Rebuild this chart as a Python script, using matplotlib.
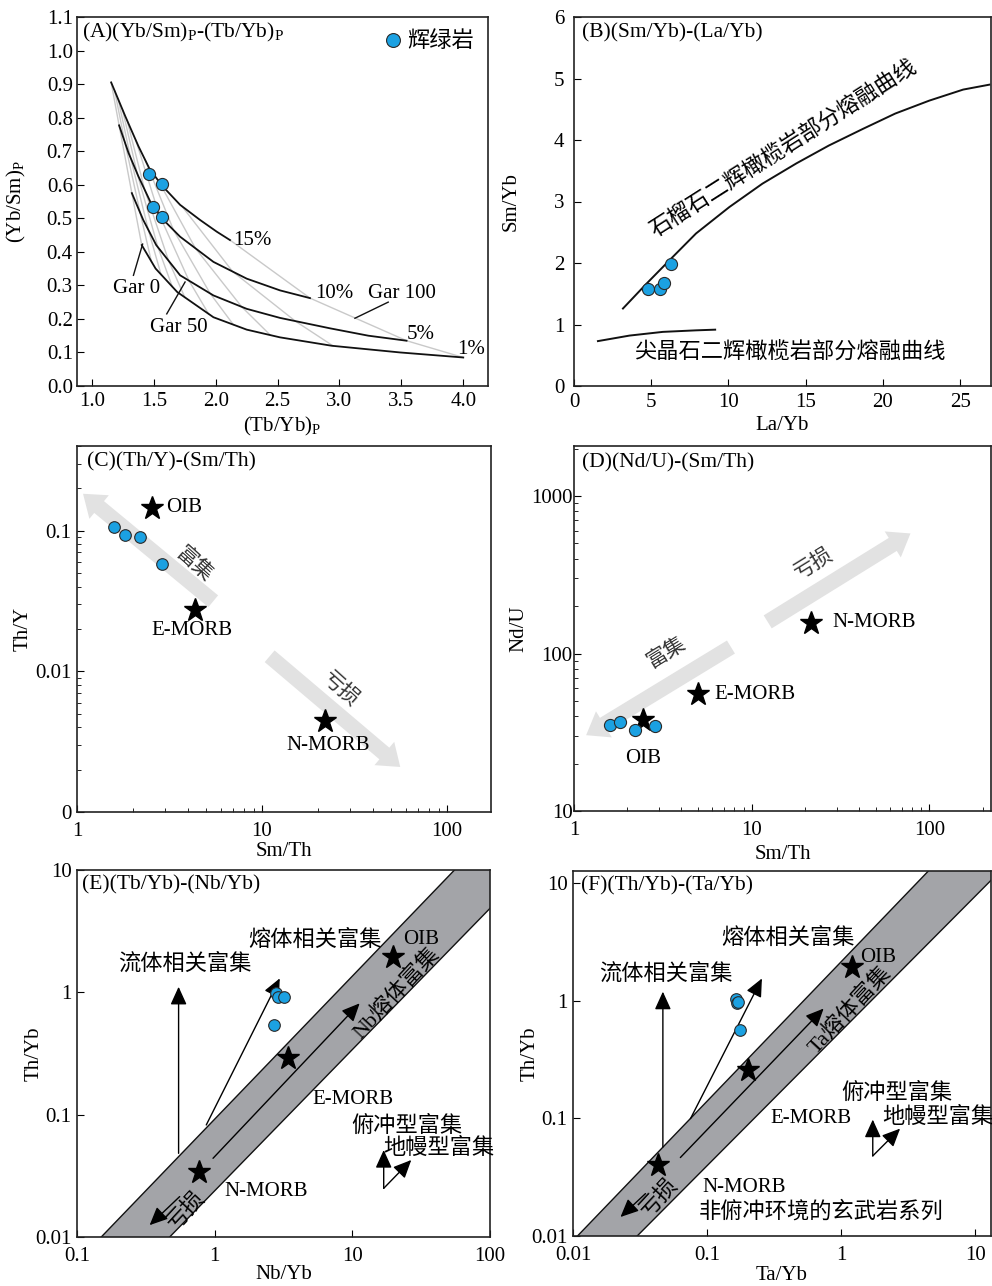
import numpy as np
import matplotlib
matplotlib.use('Agg')
import matplotlib.pyplot as plt
from matplotlib.lines import Line2D
from matplotlib.patches import Polygon
from matplotlib.ticker import (FixedLocator, FixedFormatter, NullFormatter,
                               LogLocator, MultipleLocator, FormatStrFormatter)

plt.rcParams['font.family'] = ['Liberation Serif', 'Noto Sans CJK SC']
plt.rcParams['mathtext.fontset'] = 'custom'
plt.rcParams['mathtext.rm'] = 'Liberation Serif'
plt.rcParams['font.size'] = 15
plt.rcParams['xtick.direction'] = 'in'
plt.rcParams['ytick.direction'] = 'in'
plt.rcParams['xtick.major.size'] = 5
plt.rcParams['ytick.major.size'] = 5
plt.rcParams['xtick.minor.size'] = 3
plt.rcParams['ytick.minor.size'] = 3
plt.rcParams['axes.linewidth'] = 1.2
plt.rcParams['axes.edgecolor'] = '#222222'

LAT = 15      # latin annotation size
CJ = 16       # CJK annotation size
TT = 15.5     # panel titles

# ---------------- data ----------------
# Panel A: melting curves (15%, 10%, 5%, 1%)
a_x15 = [1.156, 1.269, 1.376, 1.465, 1.565, 1.713, 1.874, 2.009, 2.116]
a_y15 = [0.905, 0.805, 0.715, 0.648, 0.598, 0.540, 0.495, 0.460, 0.435]
a_x10 = [1.220, 1.296, 1.376, 1.484, 1.592, 1.713, 1.982, 2.251, 2.520, 2.762]
a_y10 = [0.777, 0.695, 0.625, 0.540, 0.490, 0.445, 0.370, 0.320, 0.285, 0.262]
a_x5 = [1.323, 1.415, 1.520, 1.713, 1.982, 2.251, 2.520, 2.923, 3.233, 3.542]
a_y5 = [0.575, 0.495, 0.420, 0.330, 0.270, 0.230, 0.203, 0.172, 0.150, 0.135]
a_x1 = [1.403, 1.515, 1.690, 1.982, 2.251, 2.520, 2.937, 3.490, 4.000]
a_y1 = [0.420, 0.350, 0.280, 0.205, 0.168, 0.145, 0.120, 0.100, 0.085]
a_gar_pos = [0.0, 0.03, 0.06, 0.095, 0.134, 0.208, 0.285, 0.40, 0.595, 1.0]
a_sample_x = [1.465, 1.565, 1.492, 1.565]
a_sample_y = [0.633, 0.602, 0.535, 0.505]

# Panel B
b_grt_x = [3.17, 4.68, 6.4, 7.9, 10.06, 12.2, 14.4, 16.5, 18.7, 20.8, 23.0, 25.2, 26.9]
b_grt_y = [1.26, 1.66, 2.1, 2.48, 2.91, 3.29, 3.62, 3.91, 4.18, 4.43, 4.64, 4.82, 4.9]
b_spl_x = [1.55, 3.6, 5.75, 7.9, 9.14]
b_spl_y = [0.73, 0.82, 0.88, 0.905, 0.916]
b_sample_x = [4.78, 5.54, 5.80, 6.29]
b_sample_y = [1.58, 1.58, 1.67, 1.99]

# Panel C
c_sample_x = [1.59, 1.81, 2.18, 2.87]
c_sample_y = [0.107, 0.0937, 0.090, 0.058]
c_ref_x = [2.53, 4.37, 21.9]
c_ref_y = [0.145, 0.0272, 0.00442]

# Panel D
d_sample_x = [1.59, 1.82, 2.19, 2.87]
d_sample_y = [35.0, 36.8, 32.6, 34.5]
d_ref_x = [2.44, 4.97, 21.5]
d_ref_y = [37.7, 55.2, 156.7]

# Panel E
e_sample_x = [2.77, 2.88, 3.17, 2.68]
e_sample_y = [0.99, 0.91, 0.92, 0.54]
e_ref_x = [0.766, 3.41, 19.7]
e_ref_y = [0.0338, 0.288, 1.93]
e_band_up_x, e_band_up_y = [0.150, 53.8], [0.01, 9.7]
e_band_lo_x, e_band_lo_y = [0.471, 100.0], [0.01, 4.86]

# Panel F
f_sample_x = [0.165, 0.168, 0.171, 0.177]
f_sample_y = [1.03, 0.95, 0.97, 0.565]
f_ref_x = [0.043, 0.2018, 1.21]
f_ref_y = [0.0399, 0.256, 1.91]
f_band_up_x, f_band_up_y = [0.0108, 4.47], [0.01, 12.6]
f_band_lo_x, f_band_lo_y = [0.0301, 13.1], [0.01, 10.5]

# ---------------- style ----------------
BLUE = '#1ba1e2'
GRAYARROW = '#e2e2e2'
BAND = '#a3a4a8'
W, H = 992, 1286
fig = plt.figure(figsize=(W / 100, H / 100), dpi=100)


def add_ax(l, t, r, b):
    return fig.add_axes([l / W, 1 - b / H, (r - l) / W, (b - t) / H])


def samples(ax, x, y, s=76):
    ax.scatter(x, y, s=s, c=BLUE, edgecolors='#2a2a2a', linewidths=0.8, zorder=6)


def stars(ax, x, y):
    ax.plot(x, y, '*', color='k', ms=17, mec='k', ls='none', zorder=5)


def gray_arrow(ax, tail, tip):
    ax.annotate('', xy=tip, xytext=tail,
                arrowprops=dict(arrowstyle='simple,head_length=1.5,head_width=2.2,tail_width=1.1',
                                fc=GRAYARROW, ec='none', mutation_scale=10,
                                shrinkA=0, shrinkB=0), zorder=1)


def black_arrow(ax, tail, tip, ms=10):
    ax.annotate('', xy=tip, xytext=tail,
                arrowprops=dict(arrowstyle='-|>,head_length=1.1,head_width=0.5',
                                fc='k', ec='k', lw=1.0, mutation_scale=ms,
                                shrinkA=0, shrinkB=0), zorder=4)


def title(ax, s, fx, fy):
    ax.text(fx, fy, s, transform=ax.transAxes, ha='left', va='center', fontsize=TT)


def band(ax, ux, uy, lx, ly):
    def line(xs, ys):
        lx_ = np.log10(xs); ly_ = np.log10(ys)
        k = (ly_[1] - ly_[0]) / (lx_[1] - lx_[0])
        xx = np.array([lx_[0] - 3, lx_[1] + 3])
        return 10 ** xx, 10 ** (ly_[0] + k * (xx - lx_[0]))
    ux2, uy2 = line(ux, uy)
    lx2, ly2 = line(lx, ly)
    verts = list(zip(ux2, uy2)) + list(zip(lx2[::-1], ly2[::-1]))
    ax.add_patch(Polygon(verts, closed=True, fc=BAND, ec='none', zorder=1))
    ax.plot(ux2, uy2, color='#111111', lw=1.0, zorder=2)
    ax.plot(lx2, ly2, color='#111111', lw=1.0, zorder=2)


def labels(ax, xl, yl, xc, yc):
    ax.set_xlabel(xl, fontsize=LAT)
    ax.set_ylabel(yl, fontsize=LAT)
    ax.xaxis.set_label_coords(0.5, xc)
    ax.yaxis.set_label_coords(yc, 0.5)


# ================= Panel A =================
axA = add_ax(77, 17, 488, 386)
curves = [(a_x15, a_y15), (a_x10, a_y10), (a_x5, a_y5), (a_x1, a_y1)]
for f in a_gar_pos:
    gx, gy = [], []
    for xs, ys in curves:
        xv = xs[0] + f * (xs[-1] - xs[0])
        gx.append(xv)
        gy.append(np.interp(xv, xs, ys))
    axA.plot(gx, gy, color='#c9c9c9', lw=1.0, zorder=1)
for xs, ys in curves:
    axA.plot(xs, ys, color='#111111', lw=1.3, zorder=2)
samples(axA, a_sample_x, a_sample_y)
axA.set_xlim(0.88, 4.2)
axA.set_ylim(0, 1.1)
axA.xaxis.set_major_locator(MultipleLocator(0.5))
axA.yaxis.set_major_locator(MultipleLocator(0.1))
axA.xaxis.set_major_formatter(FormatStrFormatter('%.1f'))
axA.yaxis.set_major_formatter(FormatStrFormatter('%.1f'))
axA.tick_params(axis='x', pad=4)
axA.tick_params(axis='y', pad=3)
axA.text(2.14, 0.435, '15%', ha='left', va='center', fontsize=LAT)
axA.text(2.80, 0.275, '10%', ha='left', va='center', fontsize=LAT)
axA.text(3.54, 0.155, '5%', ha='left', va='center', fontsize=LAT)
axA.text(3.95, 0.11, '1%', ha='left', va='center', fontsize=LAT)
axA.text(3.23, 0.275, 'Gar 100', ha='left', va='center', fontsize=LAT)
axA.plot([3.125, 3.394], [0.202, 0.25], color='#111111', lw=1.0)
axA.text(1.17, 0.292, 'Gar 0', ha='left', va='center', fontsize=LAT)
axA.plot([1.336, 1.41], [0.33, 0.423], color='#111111', lw=1.0)
axA.text(1.47, 0.175, 'Gar 50', ha='left', va='center', fontsize=LAT)
axA.plot([1.605, 1.753], [0.215, 0.31], color='#111111', lw=1.0)
title(axA, '(A)(Yb/Sm)$_{\\mathregular{P}}$-(Tb/Yb)$_{\\mathregular{P}}$', 0.012, 0.957)
h = Line2D([], [], marker='o', ls='none', mfc=BLUE, mec='#2a2a2a', ms=10, mew=0.8)
axA.legend([h], ['辉绿岩'], loc='upper right', frameon=False, fontsize=CJ,
           handletextpad=0.1, borderaxespad=0.25, handlelength=1.0)
labels(axA, '(Tb/Yb)$_{\\mathregular{P}}$', '(Yb/Sm)$_{\\mathregular{P}}$', -0.078, -0.119)

# ================= Panel B =================
axB = add_ax(574, 17, 991, 386)
axB.plot(b_grt_x, b_grt_y, color='#111111', lw=1.4)
axB.plot(b_spl_x, b_spl_y, color='#111111', lw=1.4)
samples(axB, b_sample_x, b_sample_y)
axB.set_xlim(0, 27)
axB.set_ylim(0, 6)
axB.xaxis.set_major_locator(MultipleLocator(5))
axB.yaxis.set_major_locator(MultipleLocator(1))
axB.tick_params(axis='x', pad=5)
axB.tick_params(axis='y', pad=7)
axB.text(13.56, 3.86, '石榴石二辉橄榄岩部分熔融曲线', rotation=32.5, ha='center', va='center',
         fontsize=CJ, rotation_mode='anchor')
axB.text(14.0, 0.55, '尖晶石二辉橄榄岩部分熔融曲线', ha='center', va='center', fontsize=CJ)
title(axB, '(B)(Sm/Yb)-(La/Yb)', 0.019, 0.957)
labels(axB, 'La/Yb', 'Sm/Yb', -0.08, -0.127)

# ================= Panel C =================
axC = add_ax(77, 446, 491, 812)
axC.set_xscale('log'); axC.set_yscale('log')
axC.set_xlim(1, 173)
axC.set_ylim(0.001, 0.4)
gray_arrow(axC, (5.45, 0.0315), (1.078, 0.183))
gray_arrow(axC, (11.0, 0.0128), (55.9, 0.00209))
samples(axC, c_sample_x, c_sample_y, s=70)
stars(axC, c_ref_x, c_ref_y)
axC.text(3.05, 0.145, 'OIB', ha='left', va='center', fontsize=LAT)
axC.text(4.2, 0.0196, 'E-MORB', ha='center', va='center', fontsize=LAT)
axC.text(22.9, 0.00296, 'N-MORB', ha='center', va='center', fontsize=LAT)
axC.text(4.25, 0.0573, '富集', rotation=-42, ha='center', va='center', fontsize=CJ - 1, color='#333333')
axC.text(26.4, 0.0074, '亏损', rotation=-42, ha='center', va='center', fontsize=CJ - 1, color='#333333')
axC.yaxis.set_major_locator(FixedLocator([0.001, 0.01, 0.1]))
axC.yaxis.set_major_formatter(FixedFormatter(['0', '0.01', '0.1']))
axC.yaxis.set_minor_locator(LogLocator(base=10, subs=np.arange(2, 10)))
axC.yaxis.set_minor_formatter(NullFormatter())
axC.xaxis.set_major_locator(FixedLocator([1, 10, 100]))
axC.xaxis.set_major_formatter(FixedFormatter(['1', '10', '100']))
axC.xaxis.set_minor_locator(LogLocator(base=10, subs=np.arange(2, 10)))
axC.xaxis.set_minor_formatter(NullFormatter())
axC.tick_params(axis='x', which='both', pad=7)
axC.tick_params(axis='y', which='both', pad=4)
title(axC, '(C)(Th/Y)-(Sm/Th)', 0.024, 0.956)
labels(axC, 'Sm/Th', 'Th/Y', -0.082, -0.106)

# ================= Panel D =================
axD = add_ax(574, 446, 991, 811)
axD.set_xscale('log'); axD.set_yscale('log')
axD.set_xlim(1, 222)
axD.set_ylim(10, 2080)
gray_arrow(axD, (12.3, 158.9), (78.2, 579))
gray_arrow(axD, (7.64, 110), (1.17, 30.3))
samples(axD, d_sample_x, d_sample_y, s=76)
stars(axD, d_ref_x, d_ref_y)
axD.text(2.44, 21.5, 'OIB', ha='center', va='center', fontsize=LAT)
axD.text(6.16, 55.2, 'E-MORB', ha='left', va='center', fontsize=LAT)
axD.text(28.4, 156.7, 'N-MORB', ha='left', va='center', fontsize=LAT)
axD.text(22.4, 373, '亏损', rotation=31.6, ha='center', va='center', fontsize=CJ - 1, color='#333333')
axD.text(3.3, 100, '富集', rotation=31.6, ha='center', va='center', fontsize=CJ - 1, color='#333333')
axD.yaxis.set_major_locator(FixedLocator([10, 100, 1000]))
axD.yaxis.set_major_formatter(FixedFormatter(['10', '100', '1000']))
axD.yaxis.set_minor_locator(LogLocator(base=10, subs=np.arange(2, 10)))
axD.yaxis.set_minor_formatter(NullFormatter())
axD.xaxis.set_major_locator(FixedLocator([1, 10, 100]))
axD.xaxis.set_major_formatter(FixedFormatter(['1', '10', '100']))
axD.xaxis.set_minor_locator(LogLocator(base=10, subs=np.arange(2, 10)))
axD.xaxis.set_minor_formatter(NullFormatter())
axD.tick_params(axis='x', which='both', pad=7)
axD.tick_params(axis='y', which='both', pad=1)
title(axD, '(D)(Nd/U)-(Sm/Th)', 0.019, 0.953)
labels(axD, 'Sm/Th', 'Nd/U', -0.093, -0.11)

# ================= Panel E =================
axE = add_ax(77, 870, 490, 1237)
axE.set_xscale('log'); axE.set_yscale('log')
axE.set_xlim(0.1, 100)
axE.set_ylim(0.01, 10)
band(axE, e_band_up_x, e_band_up_y, e_band_lo_x, e_band_lo_y)
black_arrow(axE, (0.547, 0.0483), (0.547, 1.11))
black_arrow(axE, (0.869, 0.0824), (2.97, 1.30))
black_arrow(axE, (0.973, 0.044), (11.3, 0.813))
black_arrow(axE, (0.557, 0.0214), (0.337, 0.0125))
black_arrow(axE, (16.9, 0.025), (16.9, 0.0514))
black_arrow(axE, (16.9, 0.025), (26.8, 0.0426))
samples(axE, e_sample_x, e_sample_y, s=70)
stars(axE, e_ref_x, e_ref_y)
axE.text(5.32, 2.68, '熔体相关富集', ha='center', va='center', fontsize=CJ)
axE.text(23.3, 2.68, 'OIB', ha='left', va='center', fontsize=LAT)
axE.text(0.612, 1.71, '流体相关富集', ha='center', va='center', fontsize=CJ)
axE.text(20.9, 0.98, 'Nb熔体富集', rotation=47, ha='center', va='center', fontsize=CJ,
         rotation_mode='anchor')
axE.text(10.1, 0.133, 'E-MORB', ha='center', va='center', fontsize=LAT)
axE.text(24.9, 0.0798, '俯冲型富集', ha='center', va='center', fontsize=CJ)
axE.text(42.4, 0.0531, '地幔型富集', ha='center', va='center', fontsize=CJ)
axE.text(2.37, 0.0235, 'N-MORB', ha='center', va='center', fontsize=LAT)
axE.text(0.622, 0.0166, '亏损', rotation=47, ha='center', va='center', fontsize=CJ,
         rotation_mode='anchor')
axE.yaxis.set_major_locator(FixedLocator([0.01, 0.1, 1, 10]))
axE.yaxis.set_major_formatter(FixedFormatter(['0.01', '0.1', '1', '10']))
axE.xaxis.set_major_locator(FixedLocator([0.1, 1, 10, 100]))
axE.xaxis.set_major_formatter(FixedFormatter(['0.1', '1', '10', '100']))
axE.xaxis.set_minor_locator(FixedLocator([]))
axE.yaxis.set_minor_locator(FixedLocator([]))
axE.tick_params(axis='x', pad=7)
axE.tick_params(axis='y', pad=4)
title(axE, '(E)(Tb/Yb)-(Nb/Yb)', 0.012, 0.959)
labels(axE, 'Nb/Yb', 'Th/Yb', -0.076, -0.082)

# ================= Panel F =================
axF = add_ax(573, 871, 991, 1236)
axF.set_xscale('log'); axF.set_yscale('log')
axF.set_xlim(0.01, 13.1)
axF.set_ylim(0.01, 12.6)
band(axF, f_band_up_x, f_band_up_y, f_band_lo_x, f_band_lo_y)
black_arrow(axF, (0.0468, 0.057), (0.0468, 1.19))
black_arrow(axF, (0.0752, 0.0993), (0.2564, 1.54))
black_arrow(axF, (0.0632, 0.0464), (0.7396, 0.855))
black_arrow(axF, (0.0347, 0.0229), (0.0226, 0.0145))
black_arrow(axF, (1.72, 0.0479), (1.72, 0.0975))
black_arrow(axF, (1.72, 0.0479), (2.75, 0.0817))
samples(axF, f_sample_x, f_sample_y, s=70)
stars(axF, f_ref_x, f_ref_y)
axF.text(0.398, 3.36, '熔体相关富集', ha='center', va='center', fontsize=CJ)
axF.text(0.0496, 1.69, '流体相关富集', ha='center', va='center', fontsize=CJ)
axF.text(1.38, 2.32, 'OIB', ha='left', va='center', fontsize=LAT)
axF.text(1.17, 0.828, 'Ta熔体富集', rotation=47, ha='center', va='center', fontsize=CJ,
         rotation_mode='anchor')
axF.text(2.59, 0.164, '俯冲型富集', ha='center', va='center', fontsize=CJ)
axF.text(0.598, 0.099, 'E-MORB', ha='center', va='center', fontsize=LAT)
axF.text(2.01, 0.1026, '地幔型富集', ha='left', va='center', fontsize=CJ)
axF.text(0.1875, 0.026, 'N-MORB', ha='center', va='center', fontsize=LAT)
axF.text(0.0867, 0.016, '非俯冲环境的玄武岩系列', ha='left', va='center', fontsize=CJ)
axF.text(0.0437, 0.0214, '亏损', rotation=47, ha='center', va='center', fontsize=CJ,
         rotation_mode='anchor')
axF.yaxis.set_major_locator(FixedLocator([0.01, 0.1, 1, 10]))
axF.yaxis.set_major_formatter(FixedFormatter(['0.01', '0.1', '1', '10']))
axF.xaxis.set_major_locator(FixedLocator([0.01, 0.1, 1, 10]))
axF.xaxis.set_major_formatter(FixedFormatter(['0.01', '0.1', '1', '10']))
axF.xaxis.set_minor_locator(FixedLocator([]))
axF.yaxis.set_minor_locator(FixedLocator([]))
axF.tick_params(axis='x', pad=7)
axF.tick_params(axis='y', pad=4)
title(axF, '(F)(Th/Yb)-(Ta/Yb)', 0.019, 0.96)
labels(axF, 'Ta/Yb', 'Th/Yb', -0.082, -0.081)

fig.savefig('out.png', dpi=100)
